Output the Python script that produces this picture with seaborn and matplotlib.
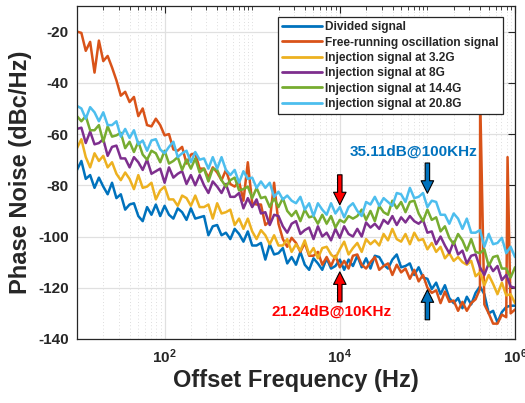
import numpy as np
import pandas as pd
import matplotlib
matplotlib.use("Agg")
import matplotlib.pyplot as plt
import seaborn as sns
from matplotlib.ticker import FixedLocator, FixedFormatter, NullFormatter

# ---------------- data ----------------
log_freq = np.round(np.linspace(1.0, 6.0, 101), 2)   # log10(offset frequency, Hz)

divided = [-74.0, -70.5, -77.5, -76.0, -81.0, -77.0, -80.5, -83.5, -79.0, -85.0,
           -83.5, -89.5, -87.5, -87.0, -92.0, -94.0, -88.5, -91.5, -87.5, -92.0,
           -88.0, -91.5, -93.0, -89.0, -90.5, -93.5, -89.0, -93.0, -92.5, -92.0,
           -99.5, -96.0, -95.5, -99.5, -98.5, -101.0, -97.0, -99.0, -102.0, -98.0,
           -103.5, -103.5, -102.5, -109.0, -103.0, -107.0, -106.5, -104.5, -110.5, -108.0,
           -111.0, -106.0, -111.0, -113.0, -108.5, -110.5, -113.0, -108.5, -112.5, -111.5,
           -109.0, -113.0, -109.0, -111.5, -107.5, -112.0, -108.5, -112.5, -107.5, -108.0,
           -111.0, -112.5, -109.0, -107.0, -112.0, -111.5, -110.5, -115.0, -112.0, -116.0,
           -116.5, -120.5, -118.0, -122.5, -119.0, -124.0, -126.0, -124.0, -128.0, -123.5,
           -126.5, -122.0, -119.5, -122.5, -130.0, -129.0, -133.5, -129.5, -127.5, -127.0,
           -127.0]

free_running = [-20.0, -20.5, -27.5, -24.0, -36.0, -23.5, -31.5, -29.5, -34.0, -39.0,
                -45.0, -43.5, -47.5, -45.5, -53.0, -50.0, -56.5, -57.0, -54.0, -56.5,
                -60.5, -60.0, -66.0, -66.5, -65.0, -71.5, -68.0, -67.5, -73.5, -73.5,
                -77.0, -73.0, -75.0, -78.0, -74.0, -79.5, -80.5, -78.5, -86.0, -71.0,
                -87.0, -87.5, -87.5, -95.5, -94.0, -79.0, -95.0, -101.0, -104.0, -100.5,
                -102.5, -106.0, -102.5, -107.5, -107.5, -106.0, -111.0, -108.0, -111.5, -107.5,
                -112.0, -109.5, -112.5, -107.5, -107.0, -111.0, -112.5, -110.0, -108.0, -113.0,
                -111.5, -110.5, -115.0, -111.0, -114.0, -112.5, -116.5, -113.0, -117.5, -115.0,
                -120.0, -122.0, -121.0, -126.0, -121.5, -125.5, -125.0, -129.0, -125.5, -129.0,
                -126.0, -124.5, -120.5, -126.5, -130.0, -134.0, -134.0, -130.5, -131.5, -130.0,
                -128.5]
spike_log_freq = [5.602, 5.915]
spike_db = [-45.0, -69.0]

inj_3g2 = [-65.5, -62.0, -69.0, -73.0, -67.5, -70.5, -68.5, -73.0, -71.0, -75.5,
           -78.0, -75.0, -77.5, -81.5, -76.0, -81.0, -80.5, -79.0, -85.5, -82.0,
           -80.5, -85.5, -85.5, -88.0, -84.0, -85.0, -88.0, -84.0, -88.5, -88.5,
           -87.5, -93.0, -87.0, -91.0, -90.5, -89.5, -95.5, -93.0, -97.0, -93.0,
           -98.0, -101.0, -97.5, -99.5, -103.0, -99.5, -103.5, -103.5, -101.0, -106.0,
           -103.0, -105.5, -101.5, -107.0, -104.5, -108.5, -104.5, -104.0, -107.0, -108.5,
           -105.0, -102.0, -107.0, -104.5, -102.5, -106.0, -101.0, -103.0, -101.5, -103.5,
           -99.0, -101.5, -97.0, -101.0, -102.0, -99.0, -103.0, -98.5, -101.5, -101.0,
           -105.0, -102.5, -106.0, -104.0, -108.5, -106.5, -109.5, -108.0, -110.0, -111.0,
           -109.5, -115.5, -114.0, -119.0, -115.0, -118.5, -122.5, -118.0, -123.0, -122.5,
           -126.0]

inj_8g = [-58.0, -57.5, -63.5, -59.0, -64.0, -63.5, -62.0, -68.5, -65.0, -64.5,
          -69.5, -69.5, -73.0, -69.0, -71.0, -74.0, -70.0, -75.5, -74.5, -73.5,
          -79.0, -73.0, -77.0, -75.5, -74.5, -79.5, -76.0, -80.0, -76.0, -80.0,
          -83.0, -78.5, -80.5, -83.0, -79.5, -84.5, -84.5, -83.0, -89.0, -85.0,
          -88.5, -85.5, -91.0, -90.5, -95.5, -91.5, -92.0, -96.0, -98.5, -95.0,
          -94.0, -99.0, -97.5, -96.5, -101.0, -96.0, -100.0, -98.5, -101.5, -97.0,
          -100.5, -96.0, -99.0, -100.0, -97.0, -100.0, -94.5, -96.5, -95.0, -97.0,
          -93.5, -95.0, -92.0, -95.5, -92.5, -94.5, -92.0, -94.0, -95.0, -93.5,
          -98.5, -98.0, -103.0, -100.0, -103.5, -106.5, -102.0, -107.0, -105.5, -110.5,
          -107.5, -107.0, -112.0, -115.0, -110.5, -113.5, -111.5, -117.0, -115.0, -119.5,
          -120.0]

inj_14g4 = [-53.0, -55.0, -53.0, -58.5, -58.5, -56.5, -63.0, -57.0, -61.0, -60.5,
            -59.5, -65.5, -63.0, -67.0, -63.0, -68.0, -70.0, -66.5, -67.5, -71.0,
            -66.5, -71.5, -70.5, -69.0, -74.0, -70.0, -73.5, -69.5, -75.0, -73.5,
            -78.5, -73.5, -74.0, -78.0, -80.5, -78.0, -77.0, -82.0, -81.5, -80.5,
            -85.0, -81.0, -85.0, -84.5, -88.5, -85.0, -88.5, -85.0, -90.0, -92.0,
            -90.0, -94.0, -89.5, -92.5, -92.0, -95.0, -91.5, -95.0, -92.0, -96.5,
            -93.5, -94.5, -92.0, -93.0, -92.0, -89.5, -93.5, -90.0, -94.0, -88.0,
            -90.5, -91.5, -86.0, -89.0, -86.5, -90.5, -86.5, -86.0, -91.0, -94.0,
            -89.5, -93.5, -92.5, -98.0, -96.0, -100.5, -103.0, -99.0, -101.5, -105.5,
            -101.0, -106.0, -106.5, -105.0, -111.5, -108.0, -107.5, -112.5, -112.5, -116.0,
            -112.0]

inj_20g8 = [-49.0, -50.0, -54.0, -49.5, -51.5, -55.0, -51.5, -56.5, -56.5, -55.0,
            -61.0, -58.0, -61.5, -58.5, -64.0, -62.5, -66.5, -62.5, -62.0, -66.0,
            -67.5, -65.0, -63.0, -69.0, -67.5, -66.5, -71.0, -67.0, -70.0, -69.5,
            -73.5, -69.0, -73.5, -69.0, -74.0, -76.0, -74.0, -79.0, -74.5, -77.5,
            -77.0, -81.0, -78.5, -81.0, -79.0, -84.5, -82.5, -85.5, -84.0, -86.0,
            -87.0, -84.5, -89.5, -87.0, -92.0, -87.0, -89.5, -91.5, -87.0, -91.0,
            -88.5, -92.5, -88.5, -87.0, -90.0, -92.0, -86.5, -87.5, -84.5, -88.0,
            -85.0, -86.5, -88.0, -83.0, -83.5, -86.5, -81.0, -85.0, -84.5, -83.0,
            -88.5, -86.0, -86.5, -91.5, -91.5, -95.0, -91.0, -93.0, -97.0, -93.0,
            -98.5, -98.5, -97.5, -104.0, -99.0, -103.0, -102.5, -100.5, -106.5, -104.0,
            -108.0]

series_labels = ["Divided signal", "Free-running oscillation signal",
                 "Injection signal at 3.2G", "Injection signal at 8G",
                 "Injection signal at 14.4G", "Injection signal at 20.8G"]
series_colors = ["#0072BD", "#D95319", "#EDB120", "#7E2F8E", "#77AC30", "#4DBEEE"]

y_ticks = [-140, -120, -100, -80, -60, -40, -20]
x_major_ticks = [1e2, 1e4, 1e6]
x_tick_labels = [r"$\mathbf{10^{2}}$", r"$\mathbf{10^{4}}$", r"$\mathbf{10^{6}}$"]

# annotation arrows: (freq, tail dB, tip dB, colour)
arrow_freq = [1e4, 1e4, 1e5, 1e5]
arrow_tail = [-75.9, -125.5, -71.3, -132.5]
arrow_tip = [-87.6, -113.8, -83.1, -120.8]
arrow_color = ["#FF0000", "#FF0000", "#0072BD", "#0072BD"]
note_text = ["35.11dB@100KHz", "21.24dB@10KHz"]
note_freq = [6.95e4, 8.0e3]
note_db = [-66.9, -129.5]
note_color = ["#0072BD", "#FF0000"]

# ---------------- build long table ----------------
frames = []
values = [divided, free_running, inj_3g2, inj_8g, inj_14g4, inj_20g8]
for lab, vals in zip(series_labels, values):
    lf = list(log_freq)
    vv = list(vals)
    if lab == "Free-running oscillation signal":
        lf = lf + spike_log_freq
        vv = vv + spike_db
    d = pd.DataFrame({"freq": 10 ** np.array(lf), "pn": vv, "signal": lab})
    d = d.sort_values("freq")
    frames.append(d)
df = pd.concat(frames, ignore_index=True)

# ---------------- style ----------------
sns.set_style("white")
plt.rcParams["font.family"] = ["Liberation Sans", "DejaVu Sans"]
plt.rcParams["font.weight"] = "bold"
plt.rcParams["mathtext.fontset"] = "custom"
plt.rcParams["mathtext.rm"] = "Liberation Sans"
plt.rcParams["mathtext.bf"] = "Liberation Sans:bold"

fig = plt.figure(figsize=(5.25, 4.03), dpi=100)
ax = fig.add_axes([77 / 525, 1 - 339 / 403, 438 / 525, 333 / 403])
ax.set_xscale("log")

sns.lineplot(data=df, x="freq", y="pn", hue="signal", hue_order=series_labels,
             palette=series_colors, estimator=None, sort=False, linewidth=1.8, ax=ax)

ax.set_xlim(10, 1e6)
ax.set_ylim(-140, -10)

ax.xaxis.set_major_locator(FixedLocator(x_major_ticks))
ax.xaxis.set_major_formatter(FixedFormatter(x_tick_labels))
minor = [m * 10 ** e for e in range(1, 6) for m in range(1, 10) if not (m == 1 and e in (2, 4))]
minor = [v for v in minor if 10 <= v <= 1e6]
ax.xaxis.set_minor_locator(FixedLocator(minor))
ax.xaxis.set_minor_formatter(NullFormatter())
ax.set_yticks(y_ticks)
ax.set_yticklabels([str(t) for t in y_ticks])

ax.grid(True, which="major", axis="both", color="#e0e0e0", linewidth=0.9, linestyle="-")
ax.grid(True, which="minor", axis="x", color="#d2d2d2", linewidth=0.6, linestyle=(0, (1, 3)))
ax.set_axisbelow(True)

for s in ax.spines.values():
    s.set_visible(True)
    s.set_color("#262626")
    s.set_linewidth(0.9)
ax.tick_params(which="both", direction="in", top=True, right=True, colors="#262626")
ax.tick_params(which="major", length=5, width=0.8, labelsize=11, pad=6)
ax.tick_params(which="minor", length=3, width=0.6)
for t in ax.get_yticklabels():
    t.set_fontweight("bold")

ax.set_xlabel("Offset Frequency (Hz)", fontsize=17, fontweight="bold", color="#262626", labelpad=2)
ax.set_ylabel("Phase Noise (dBc/Hz)", fontsize=17, fontweight="bold", color="#262626", labelpad=4)

handles, lbls = ax.get_legend_handles_labels()
for h in handles:
    h.set_linewidth(2)
leg = ax.legend(handles, lbls, loc="upper right", bbox_to_anchor=(0.973, 0.967),
                borderaxespad=0, fancybox=False, framealpha=1, edgecolor="#262626",
                prop={"size": 8.6, "weight": "bold"}, handlelength=3.3,
                handletextpad=0.3, labelspacing=0.28, borderpad=0.35)
leg.get_frame().set_linewidth(0.9)

for f, tail, tip, c in zip(arrow_freq, arrow_tail, arrow_tip, arrow_color):
    ax.annotate("", xy=(f, tip), xytext=(f, tail),
                arrowprops=dict(facecolor=c, edgecolor="black", linewidth=0.8,
                                width=3.2, headwidth=9, headlength=9, shrink=0))
for txt, f, y, c in zip(note_text, note_freq, note_db, note_color):
    ax.text(f, y, txt, color=c, fontsize=11, fontweight="bold", ha="center", va="center")

fig.savefig("out.png", dpi=100)
